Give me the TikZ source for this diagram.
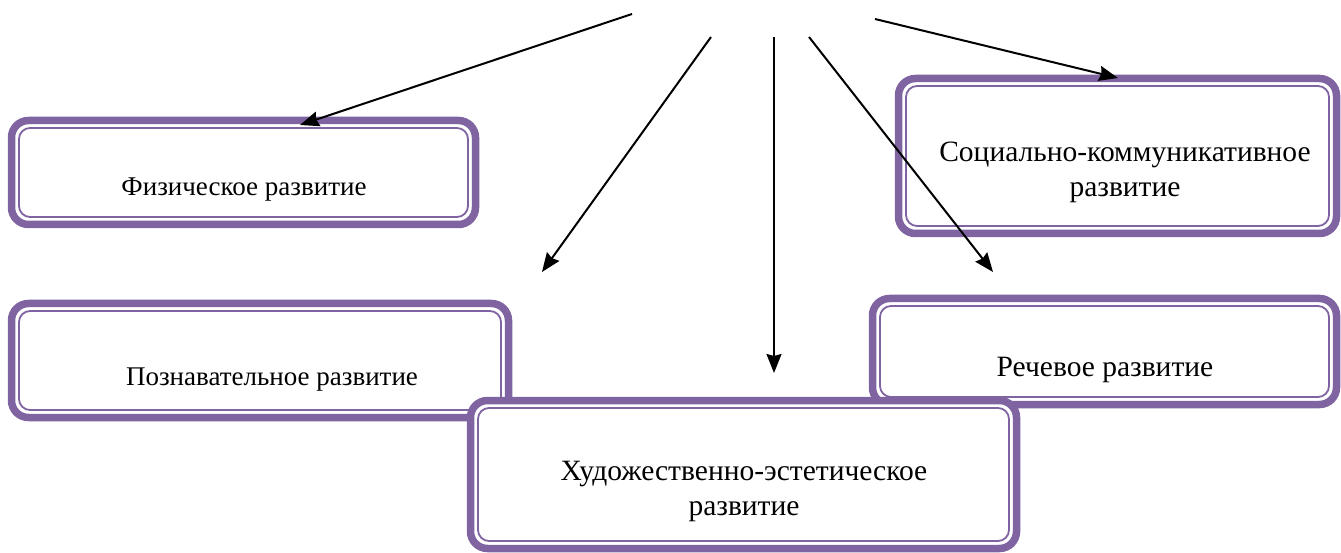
\documentclass[tikz,border=0pt]{standalone}
\usepackage{fontspec}
\setmainfont{Liberation Serif}
\usetikzlibrary{arrows.meta}
\definecolor{boxpurple}{RGB}{128,100,162}
\begin{document}
\begin{tikzpicture}[x=1pt,y=-1pt,
  outerbox/.style={draw=boxpurple, line width=7.5pt, rounded corners=17pt, fill=white, inner sep=0pt, outer sep=0pt},
  innerline/.style={draw=boxpurple, line width=1.8pt, rounded corners=11pt},
  lbl/.style={font=\fontsize{27}{34}\selectfont, align=center, inner sep=0pt},
  lblb/.style={font=\fontsize{29.5}{35}\selectfont, align=center, inner sep=0pt},
  arr/.style={draw=black, line width=2pt, -{Stealth[length=19pt,width=15pt,inset=2pt]}}]
\useasboundingbox (0,0) rectangle (1341,553);
\newcommand{\pbox}[5]{%
  \node[outerbox, minimum width=#4pt, minimum height=#5pt] (#1) at (#2,#3) {};
  \draw[innerline] ([xshift=7.5pt,yshift=-7.5pt]#1.north west) rectangle ([xshift=-7.5pt,yshift=7.5pt]#1.south east);}
% boxes
\pbox{b1}{243.5}{172.5}{464}{104}
\node[lbl] (t1) at (244,190) {Физическое развитие};
\pbox{b2}{1117.5}{156}{438}{155}
\node[lblb] (t2) at (1125,172) {Социально-коммуникативное\\развитие};
\pbox{b3}{260}{360.5}{497}{114}
\node[lbl] (t3) at (272,380) {Познавательное развитие};
\pbox{b4}{1104.5}{351.5}{464}{106}
\node[lblb] (t4) at (1105,370) {Речевое развитие};
\pbox{b5}{743.5}{474.5}{546}{148}
\node[lblb] (t5) at (744,491) {Художественно-эстетическое\\развитие};
% arrows
\coordinate (s1) at (632,14);  \coordinate (e1) at (300,125);
\coordinate (s2) at (711,37);  \coordinate (e2) at (542,272);
\coordinate (s3) at (774,37);  \coordinate (e3) at (774,373);
\coordinate (s4) at (809,37);  \coordinate (e4) at (993,272);
\coordinate (s5) at (875,19);  \coordinate (e5) at (1118,78);
\draw[arr] (s1) -- (e1);
\draw[arr] (s2) -- (e2);
\draw[arr] (s3) -- (e3);
\draw[arr] (s4) -- (e4);
\draw[arr] (s5) -- (e5);
\end{tikzpicture}
\end{document}
